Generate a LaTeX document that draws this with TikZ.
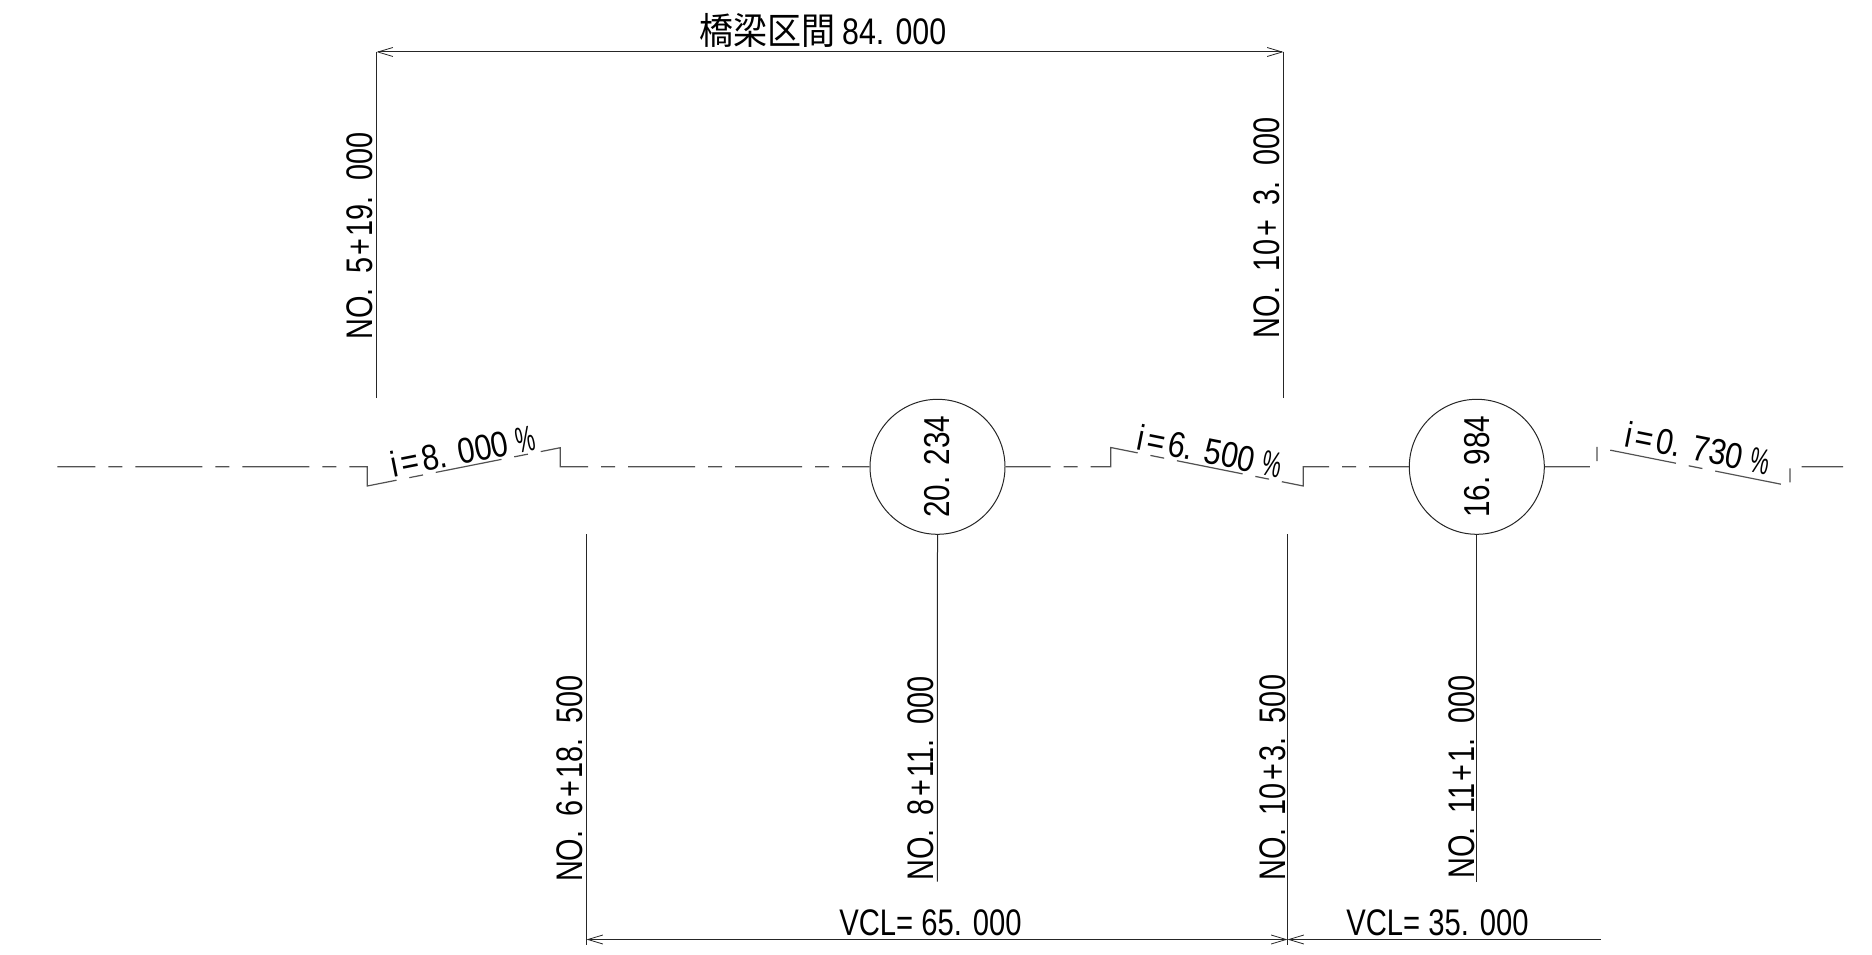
\documentclass[tikz,border=0pt]{standalone}
\usepackage{fontspec}
\setmainfont{Liberation Sans}
\newfontfamily\cjk{Noto Sans CJK SC}
\usetikzlibrary{arrows.meta}
\newcommand{\nartxt}[2]{\scalebox{#1}[1]{#2}}
\newcommand{\pct}{\scalebox{0.7}[1]{\%}}
\tikzset{
  x=1pt,y=-1pt,
  thin line/.style={line width=1pt,black!85},
  chain line/.style={line width=1.2pt,black!68,dash pattern=on 67pt off 13pt on 14pt off 13pt},
  barb/.tip={Straight Barb[length=15pt,width=9pt,line width=0.8pt]},
  lbl/.style={inner sep=0pt,font=\fontsize{37}{37}\selectfont},
  slope/.style={inner sep=0pt,font=\fontsize{36}{36}\selectfont},
  pvi/.style={circle,draw,line width=1pt,black!85,text=black,minimum size=135pt,inner sep=0pt,font=\fontsize{36}{36}\selectfont},
}
\begin{document}
\begin{tikzpicture}
\useasboundingbox (0,0) rectangle (1872,955);
% upper dimension
\coordinate (a1) at (376.5,52); \coordinate (a0) at (376.5,398);
\coordinate (b1) at (1283.5,52); \coordinate (b0) at (1283.5,398);
\draw[thin line] (a0)--(a1);
\draw[thin line] (b0)--(b1);
\draw[thin line,{barb}-{barb}] (a1)--(b1);
\node[lbl] (t1) at (823,30.5) {\scalebox{0.92}[1]{\cjk 橋梁区間}\,\nartxt{0.82}{84. 000}};
\node[lbl,rotate=90] (t2) at (360,236) {\nartxt{0.78}{NO.\kern8pt{} 5\kern3pt+\kern3pt19.\kern6pt{} 000}};
\node[lbl,rotate=90] (t3) at (1266.5,227.5) {\nartxt{0.78}{NO.\kern9pt{} 10\kern4pt+\kern8pt{} 3.\kern7pt{} 000}};
% PVI circles
\node[pvi] (c1) at (937.5,466.8) {\rotatebox{90}{\nartxt{0.825}{20. 234}}};
\node[pvi] (c2) at (1476.8,466.8) {\rotatebox{90}{\nartxt{0.825}{16. 984}}};
% chain line with grade steps
\coordinate (l0) at (57.3,466.8);
\coordinate (s1a) at (367.3,466.8); \coordinate (s1b) at (367.3,486);
\coordinate (s1c) at (560.3,447.7); \coordinate (s1d) at (560.3,466.8);
\coordinate (s2a) at (1110.7,466.8); \coordinate (s2b) at (1110.7,447.5);
\coordinate (s2c) at (1303.3,486); \coordinate (s2d) at (1303.3,466.8);
\coordinate (s3a) at (1597,466.8); \coordinate (s3b) at (1597,447.5);
\coordinate (s3c) at (1790,486); \coordinate (s3d) at (1790,466.8);
\coordinate (r0) at (1843,466.8);
\draw[chain line,dash phase=29pt] (l0)--(s1a)--(s1b)--(s1c)--(s1d)--(c1.west);
\draw[chain line,dash phase=22pt] (c1.east)--(s2a)--(s2b)--(s2c)--(s2d)--(c2.west);
\draw[chain line,dash phase=22pt] (c2.east)--(s3a)--(s3b)--(s3c)--(s3d)--(r0);
% grade labels
\node[slope,rotate=11.2] (g1) at (463,451) {\nartxt{0.85}{i\kern4pt=\kern4pt8. 000 \pct}};
\node[slope,rotate=-11.3] (g2) at (1210,451) {\nartxt{0.85}{i\kern4pt=\kern4pt6. 500 \pct}};
\node[slope,rotate=-11.3] (g3) at (1698,448) {\nartxt{0.85}{i\kern4pt=\kern4pt0. 730 \pct}};
% lower stations
\coordinate (d0) at (586.5,534); \coordinate (d1) at (586.5,945);
\coordinate (e0) at (1287.5,534); \coordinate (e1) at (1287.5,945);
\coordinate (f1) at (937.3,881.5); \coordinate (g1e) at (1476.8,881.5);
\coordinate (hA) at (586.5,939.5); \coordinate (hB) at (1287.5,939.5); \coordinate (hC) at (1601,939.5);
\draw[thin line] (d0)--(d1);
\draw[thin line] (e0)--(e1);
\draw[thin line] (c1.south)--(f1);
\draw[thin line] (c2.south)--(g1e);
\draw[thin line,{barb}-{barb}] (hA)--(hB);
\draw[thin line,{barb}-] (hB)--(hC);
\node[lbl,rotate=90] (n1) at (570,778.5) {\nartxt{0.78}{NO.\kern8pt{} 6\kern3pt+\kern3pt18.\kern6pt{} 500}};
\node[lbl,rotate=90] (n2) at (921,778.5) {\nartxt{0.78}{NO.\kern8pt{} 8\kern3pt+\kern3pt11.\kern6pt{} 000}};
\node[lbl,rotate=90] (n3) at (1272.5,777.5) {\nartxt{0.78}{NO.\kern7pt{} 10\kern3pt+\kern3pt3.\kern5pt{} 500}};
\node[lbl,rotate=90] (n4) at (1462,777) {\nartxt{0.78}{NO.\kern7pt{} 11\kern3pt+\kern3pt1.\kern5pt{} 000}};
\node[lbl] (v1) at (930.5,923) {\nartxt{0.79}{VCL= 65. 000}};
\node[lbl] (v2) at (1437.5,923) {\nartxt{0.79}{VCL= 35. 000}};
\end{tikzpicture}
\end{document}
